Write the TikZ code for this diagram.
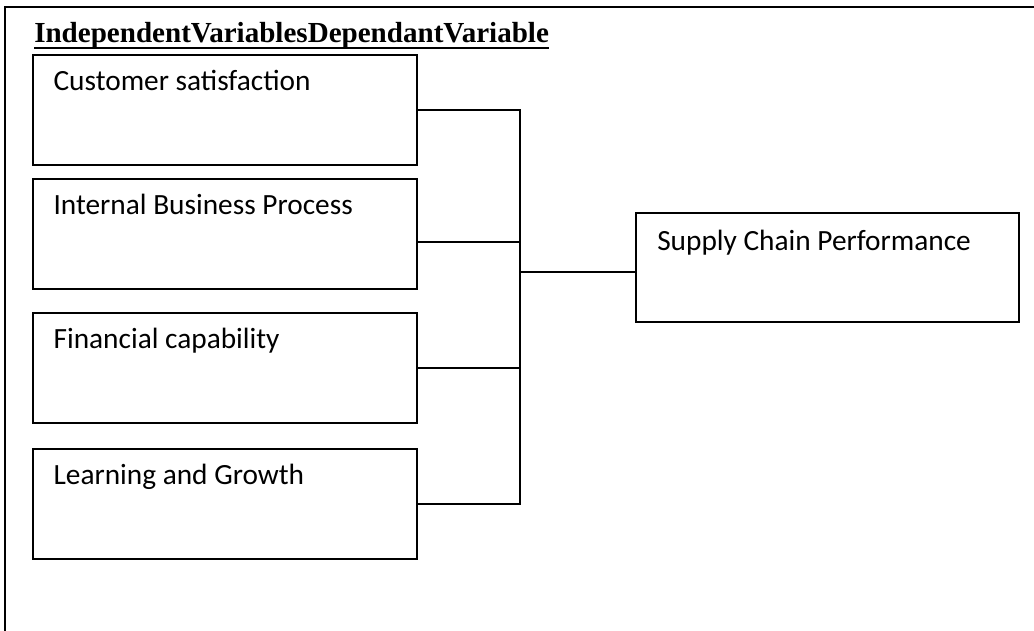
\documentclass[tikz,border=0pt]{standalone}
\usepackage{fontspec}
\setmainfont{Liberation Serif}
\newfontfamily\boxfont{Carlito}
\usepackage{tikz}
\usetikzlibrary{
    calc,
    positioning
}
\tikzset
{
  varbox/.style={draw,line width=1.3pt,minimum width=288pt,minimum height=82.5pt,inner sep=0pt},
  vartext/.style={font=\boxfont\fontsize{22}{26}\selectfont,anchor=base west,inner sep=0pt},
  link/.style={draw,line width=1.3pt}
}

\begin{document}
\begin{tikzpicture}[x=0.75pt,y=-0.75pt]
        \useasboundingbox (0,0) rectangle (1034,631);

        % Draw frame
        \draw[line width=1.8pt] (5,631) -- (5,7) -- (1034,7);

        % Heading
        \node[anchor=base west,inner sep=0pt,font=\bfseries\fontsize{21.8}{25}\selectfont] (title) at (34,43) {IndependentVariablesDependantVariable};
        \draw[line width=1.6pt] ([yshift=-3.75pt]title.base west) -- ([yshift=-3.75pt]title.base east);

        % Independent variables
        \node[varbox,anchor=north west] (cust) at (32,54) {};
        \node[varbox,anchor=north west] (proc) at (32,178) {};
        \node[varbox,anchor=north west] (fin) at (32,312) {};
        \node[varbox,anchor=north west] (learn) at (32,448) {};

        \node[vartext] (custlbl) at ([xshift=16pt,yshift=-27.5pt]cust.north west) {Customer satisfaction};
        \node[vartext] (proclbl) at ([xshift=16pt,yshift=-27.5pt]proc.north west) {Internal Business Process};
        \node[vartext] (finlbl) at ([xshift=16pt,yshift=-27.5pt]fin.north west) {Financial capability};
        \node[vartext] (learnlbl) at ([xshift=16pt,yshift=-27.5pt]learn.north west) {Learning and Growth};

        % Dependent variable
        \node[varbox,anchor=north west,minimum width=287.25pt,minimum height=81.75pt] (scp) at (635,212) {};
        \node[vartext] (scplbl) at ([xshift=16.5pt,yshift=-28.5pt]scp.north west) {Supply Chain Performance};

        % Connectors
        \coordinate (bus) at (520,272);
        \draw[link] (cust.east) -| (bus);
        \draw[link] ([yshift=-6pt]proc.east) -| (bus);
        \draw[link] (fin.east) -| (bus);
        \draw[link] (learn.east) -| (bus);
        \draw[link] (bus) -- (scp.west |- bus);
    \end{tikzpicture}
\end{document}
